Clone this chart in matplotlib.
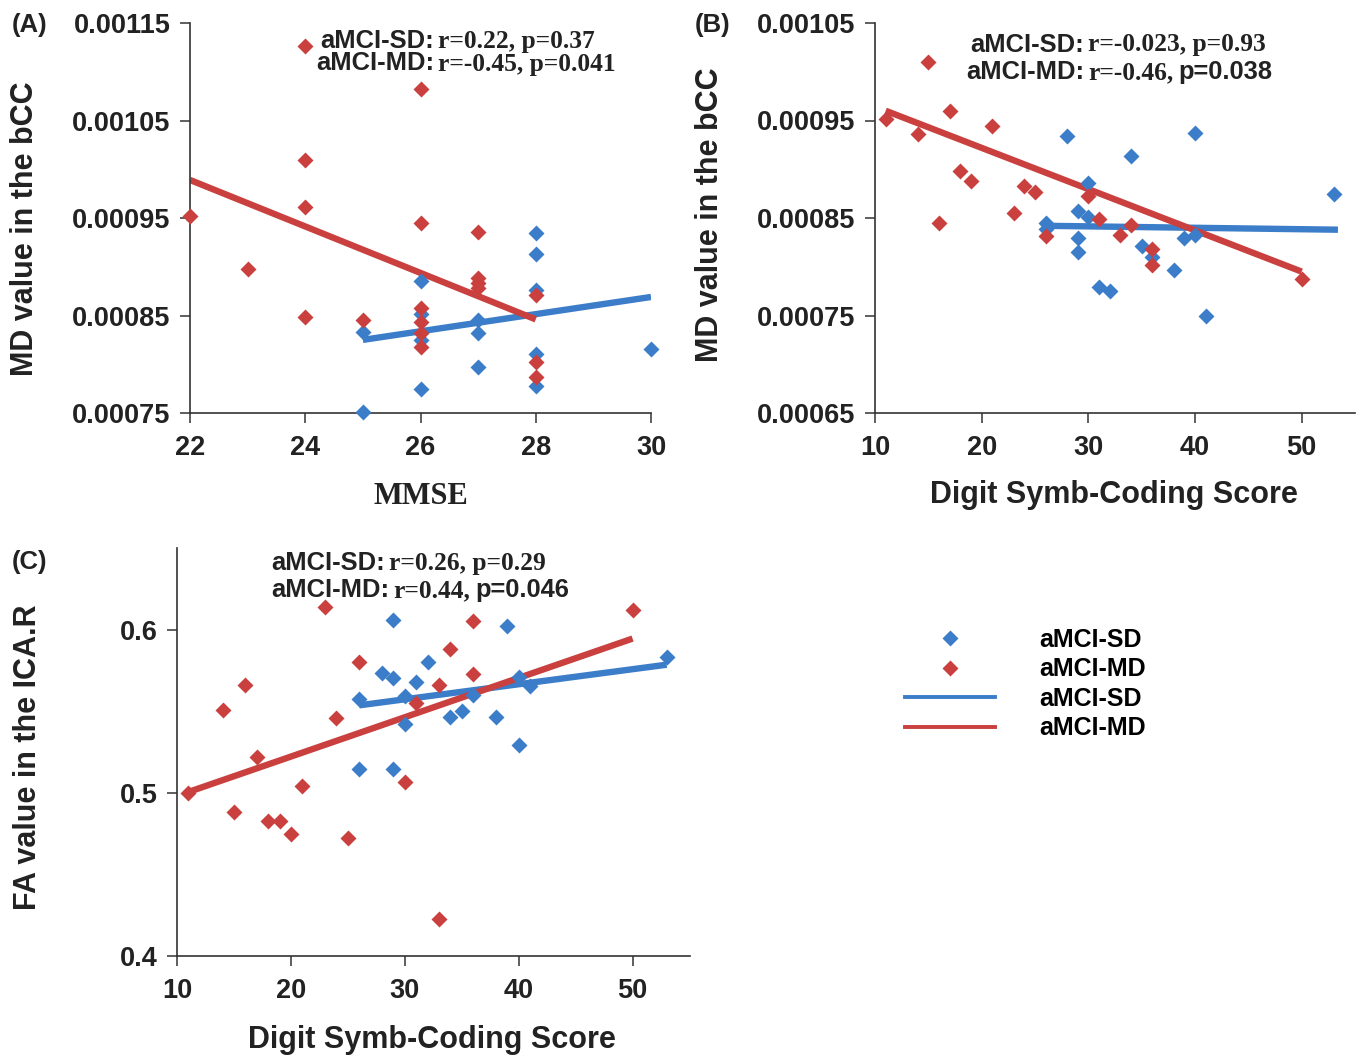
import matplotlib
matplotlib.use("Agg")
import matplotlib.pyplot as plt
from matplotlib.lines import Line2D
from matplotlib.ticker import FormatStrFormatter

# ---- data ----
# (A) MMSE vs MD in bCC
a_sd_x = [25, 25, 26, 26, 26, 26, 27, 27, 27, 28, 28, 28, 28, 28, 30]
a_sd_y = [0.000751, 0.000833, 0.000885, 0.000852, 0.000825, 0.000775, 0.000845, 0.000832,
          0.000797, 0.000935, 0.000913, 0.000876, 0.000811, 0.000778, 0.000816]
a_md_x = [22, 23, 24, 24, 24, 24, 25, 26, 26, 26, 26, 26, 26, 27, 27, 27, 27, 28, 28, 28]
a_md_y = [0.000952, 0.000898, 0.001126, 0.00101, 0.000961, 0.000848, 0.000845, 0.001082,
          0.000945, 0.000858, 0.000843, 0.000832, 0.000818, 0.000936, 0.000888, 0.000883,
          0.000878, 0.000871, 0.000802, 0.000787]
a_fit_sd_x, a_fit_sd_y = [25, 30], [0.000825, 0.000869]
a_fit_md_x, a_fit_md_y = [22, 28], [0.000989, 0.000846]

# (B) Digit symbol coding vs MD in bCC
b_sd_x = [26, 26, 28, 29, 29, 29, 30, 30, 31, 32, 34, 35, 36, 38, 39, 40, 40, 41, 53]
b_sd_y = [0.000845, 0.000839, 0.000934, 0.000857, 0.00083, 0.000815, 0.000886, 0.000851,
          0.000779, 0.000775, 0.000914, 0.000821, 0.00081, 0.000797, 0.00083, 0.000833,
          0.000937, 0.00075, 0.000875]
b_md_x = [11, 14, 15, 16, 17, 18, 19, 21, 23, 24, 25, 26, 30, 31, 33, 34, 36, 36, 50]
b_md_y = [0.000952, 0.000936, 0.00101, 0.000845, 0.00096, 0.000898, 0.000888, 0.000944,
          0.000855, 0.000883, 0.000877, 0.000832, 0.000873, 0.000849, 0.000833, 0.000843,
          0.000818, 0.000802, 0.000787]
b_fit_sd_x, b_fit_sd_y = [26, 53.4], [0.000842, 0.000838]
b_fit_md_x, b_fit_md_y = [11, 50], [0.00096, 0.000795]

# (C) Digit symbol coding vs FA in ICA.R
c_sd_x = [26, 26, 28, 29, 29, 29, 30, 30, 31, 32, 34, 35, 36, 38, 39, 40, 40, 41, 53]
c_sd_y = [0.5575, 0.5145, 0.5735, 0.6057, 0.5703, 0.5145, 0.5595, 0.5423, 0.568, 0.58,
          0.5462, 0.55, 0.56, 0.5465, 0.6025, 0.571, 0.5294, 0.5656, 0.583]
c_md_x = [11, 14, 15, 16, 17, 18, 19, 20, 21, 23, 24, 25, 26, 30, 31, 33, 33, 34, 36, 36, 50]
c_md_y = [0.5, 0.551, 0.4885, 0.566, 0.522, 0.483, 0.483, 0.475, 0.504, 0.614, 0.546, 0.472,
          0.58, 0.5066, 0.555, 0.566, 0.4227, 0.588, 0.605, 0.573, 0.612]
c_fit_sd_x, c_fit_sd_y = [26, 53], [0.5536, 0.5785]
c_fit_md_x, c_fit_md_y = [11, 50], [0.5005, 0.5945]

stats_a = [[("aMCI-SD:", "sans"), ("r=0.22, p=0.37", "serif")],
           [("aMCI-MD:", "sans"), ("r=-0.45, p=0.041", "serif")]]
stats_b = [[("aMCI-SD:", "sans"), ("r=-0.023, p=0.93", "serif")],
           [("aMCI-MD:", "sans"), ("r=-0.46,", "serif"), ("p=0.038", "sans")]]
stats_c = [[("aMCI-SD:", "sans"), ("r=0.26, p=0.29", "serif")],
           [("aMCI-MD:", "sans"), ("r=0.44,", "serif"), ("p=0.046", "sans")]]

BLUE = "#3b7dc8"
RED = "#c9403f"
SANS = "Liberation Sans"
SERIF = "Liberation Serif"
INK = "#222222"

W, H = 1361, 1057
fig = plt.figure(figsize=(W / 100, H / 100), dpi=100)


def px_axes(left, top, right, bottom):
    return fig.add_axes([left / W, 1 - bottom / H, (right - left) / W, (bottom - top) / H])


def style(ax):
    for s in ["top", "right"]:
        ax.spines[s].set_visible(False)
    for s in ["left", "bottom"]:
        ax.spines[s].set_linewidth(1.2)
        ax.spines[s].set_color("#333333")
    ax.tick_params(direction="out", length=7, width=1.1, color="#333333")
    ax.tick_params(axis="x", pad=9)
    ax.tick_params(axis="y", pad=7)
    for lab in ax.get_xticklabels() + ax.get_yticklabels():
        lab.set_fontfamily(SANS)
        lab.set_fontweight("bold")
        lab.set_fontsize(19.5)
        lab.set_color(INK)


def panel(ax, sdx, sdy, mdx, mdy, fsdx, fsdy, fmdx, fmdy):
    ax.plot(fsdx, fsdy, color=BLUE, lw=4.6, solid_capstyle="butt", zorder=2)
    ax.plot(fmdx, fmdy, color=RED, lw=4.6, solid_capstyle="butt", zorder=2)
    ax.plot(sdx, sdy, "D", color=BLUE, ms=7.8, mec="none", zorder=3, clip_on=False)
    ax.plot(mdx, mdy, "D", color=RED, ms=7.8, mec="none", zorder=3, clip_on=False)


LAB = dict(fontfamily=SANS, fontweight="bold", fontsize=22, va="center", color=INK)

# (A)
axA = px_axes(190, 23, 651, 413)
panel(axA, a_sd_x, a_sd_y, a_md_x, a_md_y, a_fit_sd_x, a_fit_sd_y, a_fit_md_x, a_fit_md_y)
axA.set_xlim(22, 30)
axA.set_ylim(0.00075, 0.00115)
axA.set_xticks([22, 24, 26, 28, 30])
axA.set_yticks([0.00075, 0.00085, 0.00095, 0.00105, 0.00115])
axA.yaxis.set_major_formatter(FormatStrFormatter("%.5f"))
style(axA)
axA.set_xlabel("MMSE", fontfamily=SERIF, fontweight="bold", fontsize=22, va="center", color=INK)
axA.xaxis.set_label_coords(0.5, (413 - 497) / 390)
axA.set_ylabel("MD value in the bCC", **LAB)
axA.yaxis.set_label_coords((25 - 190) / 461, (413 - 229) / 390)

# (B)
axB = px_axes(875, 23, 1355, 413)
panel(axB, b_sd_x, b_sd_y, b_md_x, b_md_y, b_fit_sd_x, b_fit_sd_y, b_fit_md_x, b_fit_md_y)
axB.set_xlim(10, 55)
axB.set_ylim(0.00065, 0.00105)
axB.set_xticks([10, 20, 30, 40, 50])
axB.set_yticks([0.00065, 0.00075, 0.00085, 0.00095, 0.00105])
axB.yaxis.set_major_formatter(FormatStrFormatter("%.5f"))
style(axB)
axB.set_xlabel("Digit Symb-Coding Score", **LAB)
axB.xaxis.set_label_coords((1114 - 875) / 480, (413 - 495) / 390)
axB.set_ylabel("MD value in the bCC", **LAB)
axB.yaxis.set_label_coords((710 - 875) / 480, (413 - 215) / 390)

# (C)
axC = px_axes(177, 548, 689.5, 956)
panel(axC, c_sd_x, c_sd_y, c_md_x, c_md_y, c_fit_sd_x, c_fit_sd_y, c_fit_md_x, c_fit_md_y)
axC.set_xlim(10, 55)
axC.set_ylim(0.4, 0.65)
axC.set_xticks([10, 20, 30, 40, 50])
axC.set_yticks([0.4, 0.5, 0.6])
axC.yaxis.set_major_formatter(FormatStrFormatter("%.1f"))
style(axC)
axC.set_xlabel("Digit Symb-Coding Score", **LAB)
axC.xaxis.set_label_coords((432 - 177) / 512.5, (956 - 1040) / 408)
axC.set_ylabel("FA value in the ICA.R", **LAB)
axC.yaxis.set_label_coords((28 - 177) / 512.5, (956 - 757) / 408)

# panel letters
for lbl, x, y in [("(A)", 12, 32), ("(B)", 695, 32), ("(C)", 12, 569)]:
    fig.text(x / W, 1 - y / H, lbl, fontfamily=SANS, fontweight="bold", fontsize=18.5,
             ha="left", va="baseline", color=INK)

# statistics text, mixed fonts
fig.canvas.draw()
renderer = fig.canvas.get_renderer()


def stats_line(pieces, x_anchor, baseline):
    x = x_anchor / W
    y = 1 - baseline / H
    first = True
    for txt, fam in pieces:
        t = fig.text(x, y, txt, fontfamily=SANS if fam == "sans" else SERIF,
                     fontweight="bold", fontsize=18.4, color=INK,
                     ha="right" if first else "left", va="baseline")
        if first:
            x = x_anchor / W + 4 / W
            first = False
        else:
            bb = t.get_window_extent(renderer)
            x = bb.x1 / W + 5 / W


stats_line(stats_a[0], 434, 48)
stats_line(stats_a[1], 434, 70.5)
stats_line(stats_b[0], 1084, 51.5)
stats_line(stats_b[1], 1084, 79)
stats_line(stats_c[0], 385, 570)
stats_line(stats_c[1], 389, 597)

# legend
handles = [
    Line2D([], [], ls="none", marker="D", color=BLUE, ms=8, mec="none"),
    Line2D([], [], ls="none", marker="D", color=RED, ms=8, mec="none"),
    Line2D([], [], color=BLUE, lw=2.8),
    Line2D([], [], color=RED, lw=2.8),
]
labels = ["aMCI-SD", "aMCI-MD", "aMCI-SD", "aMCI-MD"]
fig.legend(handles, labels, loc="center left", bbox_to_anchor=(905 / W, 1 - 684 / H),
           frameon=False, handlelength=3.6, handletextpad=1.75, labelspacing=0.22,
           borderpad=0, borderaxespad=0,
           prop={"family": SANS, "weight": "bold", "size": 18})

fig.savefig("out.png", dpi=100)
